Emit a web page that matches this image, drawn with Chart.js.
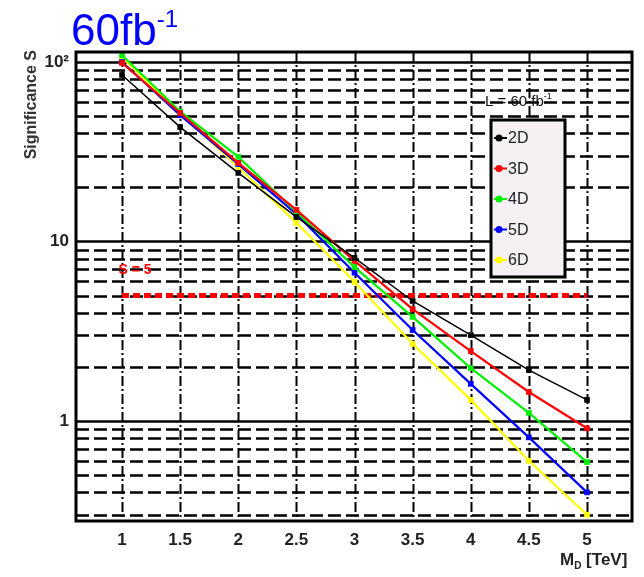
<!DOCTYPE html>
<html lang="en">
<head>
<meta charset="UTF-8">
<title>Significance vs M_D</title>
<script src="https://cdn.jsdelivr.net/npm/chart.js"></script>
<style>
  * { margin: 0; padding: 0; box-sizing: border-box; }
  body { background: #fff; }
  canvas { display: block; }
</style>
</head>
<body>
<canvas id="sigChart" width="644" height="577"></canvas>
<script>
// data
const massD = [1, 1.5, 2, 2.5, 3, 3.5, 4, 4.5, 5];
const sig2D = [84.7, 43.4, 24.1, 13.7, 8.1, 4.66, 3.01, 1.92, 1.31];
const sig3D = [98.7, 52, 27.4, 15.0, 7.8, 4.2, 2.45, 1.45, 0.91];
const sig4D = [109, 53, 29.6, 14.6, 7.2, 3.8, 1.97, 1.11, 0.59];
const sig5D = [100, 50.5, 27, 14.2, 6.7, 3.21, 1.61, 0.81, 0.40];
const sig6D = [106, 51.5, 26, 12.7, 5.95, 2.69, 1.31, 0.60, 0.30];
const seriesLabels = ['2D', '3D', '4D', '5D', '6D'];
const seriesColors = ['#000000', '#ff0000', '#00f000', '#0000ff', '#ffff00'];
const threshold = 5;
const thresholdFrom = [1, 5];

const xTicks = [1, 1.5, 2, 2.5, 3, 3.5, 4, 4.5, 5];
const yGrid = [0.3, 0.4, 0.5, 0.6, 0.7, 0.8, 0.9, 1, 2, 3, 4, 5, 6, 7, 8, 9,
               10, 20, 30, 40, 50, 60, 70, 80, 90, 100];
const yLabels = { 1: '1', 10: '10', 100: '10\u00b2' };

const allSeries = [sig2D, sig3D, sig4D, sig5D, sig6D];

const datasets = allSeries.map((vals, i) => ({
    label: seriesLabels[i],
    data: vals.map((v, k) => ({ x: massD[k], y: v })),
    borderColor: seriesColors[i],
    backgroundColor: seriesColors[i],
    borderWidth: i === 0 ? 1.5 : 2.2,
    pointStyle: 'rect',
    pointRadius: 4,
    pointBorderWidth: 0,
    tension: 0
}));

// S = 5 line
datasets.push({
    label: 'S = 5',
    data: thresholdFrom.map(x => ({ x: x, y: threshold })),
    borderColor: '#ff0000',
    borderWidth: 5,
    borderDash: [7, 4],
    pointRadius: 0
});

function supText(ctx, base, sup, x, y, font, supFont, rise) {
    ctx.font = font;
    ctx.fillText(base, x, y);
    const w = ctx.measureText(base).width;
    ctx.font = supFont;
    ctx.fillText(sup, x + w, y - rise);
}

const decorations = {
    id: 'decorations',
    beforeDatasetsDraw(chart) {
        const { ctx, chartArea: a, scales: { x, y } } = chart;
        ctx.save();
        ctx.beginPath();
        ctx.rect(a.left, a.top, a.right - a.left, a.bottom - a.top);
        ctx.clip();
        ctx.strokeStyle = '#000';
        // horizontal grid
        yGrid.forEach(v => {
            const py = Math.round(y.getPixelForValue(v)) + 0.5;
            const decade = Math.abs(Math.log10(v) - Math.round(Math.log10(v))) < 1e-9;
            ctx.lineWidth = 2.7;
            ctx.setLineDash(decade ? [] : [13, 5]);
            ctx.beginPath();
            ctx.moveTo(a.left, py);
            ctx.lineTo(a.right, py);
            ctx.stroke();
        });
        // vertical grid
        xTicks.forEach(v => {
            const px = Math.round(x.getPixelForValue(v)) + 0.5;
            ctx.lineWidth = 2;
            ctx.setLineDash([10, 3, 2, 3]);
            ctx.beginPath();
            ctx.moveTo(px, a.top);
            ctx.lineTo(px, a.bottom);
            ctx.stroke();
        });
        ctx.restore();
    },
    afterDatasetsDraw(chart) {
        const { ctx, chartArea: a, scales: { x, y } } = chart;
        ctx.save();
        // frame
        ctx.setLineDash([]);
        ctx.strokeStyle = '#000';
        ctx.lineWidth = 3;
        ctx.strokeRect(a.left, a.top, a.right - a.left, a.bottom - a.top);

        // S = 5 label
        ctx.fillStyle = '#ff0000';
        ctx.font = 'bold 14px "Liberation Sans", Arial, sans-serif';
        ctx.textBaseline = 'middle';
        ctx.fillText('S = 5', x.getPixelForValue(0.97), y.getPixelForValue(threshold) - 25);

        // L = 60 fb^-1
        ctx.fillStyle = '#111';
        ctx.textBaseline = 'alphabetic';
        supText(ctx, 'L = 60 fb', '-1', 485, 106,
            '15px "Liberation Sans", Arial, sans-serif',
            '9px "Liberation Sans", Arial, sans-serif', 7);

        // legend box
        const lx = 491, ly = 120, lw = 74, lh = 157;
        ctx.fillStyle = '#f4f0f4';
        ctx.fillRect(lx, ly, lw, lh);
        ctx.lineWidth = 3;
        ctx.strokeStyle = '#000';
        ctx.strokeRect(lx, ly, lw, lh);
        seriesLabels.forEach((lab, i) => {
            const ey = 138 + i * 30.5;
            ctx.strokeStyle = seriesColors[i];
            ctx.fillStyle = seriesColors[i];
            ctx.lineWidth = 2;
            ctx.beginPath();
            ctx.moveTo(494, ey);
            ctx.lineTo(507, ey);
            ctx.stroke();
            ctx.beginPath();
            ctx.arc(499, ey, 3.5, 0, Math.PI * 2);
            ctx.fill();
            ctx.fillStyle = '#222';
            ctx.font = '16px "Liberation Sans", Arial, sans-serif';
            ctx.textBaseline = 'middle';
            ctx.fillText(lab, 508, ey + 1);
        });
        ctx.restore();
    },
    afterDraw(chart) {
        const { ctx } = chart;
        ctx.save();
        // title
        ctx.fillStyle = '#0000ff';
        ctx.textBaseline = 'alphabetic';
        supText(ctx, '60fb', '-1', 71, 45,
            '44px "Liberation Sans", Arial, sans-serif',
            '24px "Liberation Sans", Arial, sans-serif', 18);

        // y axis title
        ctx.fillStyle = '#333';
        ctx.font = 'bold 16px "Liberation Sans", Arial, sans-serif';
        ctx.translate(36, 50);
        ctx.rotate(-Math.PI / 2);
        ctx.textAlign = 'right';
        ctx.textBaseline = 'alphabetic';
        ctx.fillText('Significance S', 0, 0);
        ctx.restore();

        // x axis title M_D [TeV]
        ctx.save();
        ctx.fillStyle = '#222';
        ctx.textBaseline = 'alphabetic';
        const bx = 560, by = 565;
        ctx.font = 'bold 17px "Liberation Sans", Arial, sans-serif';
        ctx.fillText('M', bx, by);
        const mw = ctx.measureText('M').width;
        ctx.font = 'bold 10px "Liberation Sans", Arial, sans-serif';
        ctx.fillText('D', bx + mw, by + 4);
        const dw = ctx.measureText('D').width;
        ctx.font = 'bold 17px "Liberation Sans", Arial, sans-serif';
        ctx.fillText(' [TeV]', bx + mw + dw, by);
        ctx.restore();
    }
};

new Chart(document.getElementById('sigChart'), {
    type: 'line',
    data: { datasets: datasets },
    options: {
        responsive: false,
        animation: false,
        layout: { padding: { top: 52, right: 12, left: 0, bottom: 0 } },
        plugins: {
            legend: { display: false },
            tooltip: { enabled: false }
        },
        scales: {
            x: {
                type: 'linear',
                min: 0.604,
                max: 5.387,
                grid: { display: false, drawTicks: false },
                border: { display: false },
                afterBuildTicks: axis => { axis.ticks = xTicks.map(v => ({ value: v })); },
                afterFit: axis => { axis.height = 56; },
                ticks: {
                    autoSkip: false,
                    maxRotation: 0,
                    padding: 9,
                    color: '#222',
                    font: { family: '"Liberation Sans", Arial, sans-serif', size: 17, weight: 'bold' },
                    callback: v => String(v)
                }
            },
            y: {
                type: 'logarithmic',
                min: 0.277,
                max: 113.7,
                grid: { display: false, drawTicks: false },
                border: { display: false },
                afterBuildTicks: axis => { axis.ticks = yGrid.map(v => ({ value: v })); },
                afterFit: axis => { axis.width = 76; },
                ticks: {
                    autoSkip: false,
                    padding: 7,
                    color: '#222',
                    font: { family: '"Liberation Sans", Arial, sans-serif', size: 17, weight: 'bold' },
                    callback: v => yLabels[v] || ''
                }
            }
        }
    },
    plugins: [decorations]
});
</script>
</body>
</html>
